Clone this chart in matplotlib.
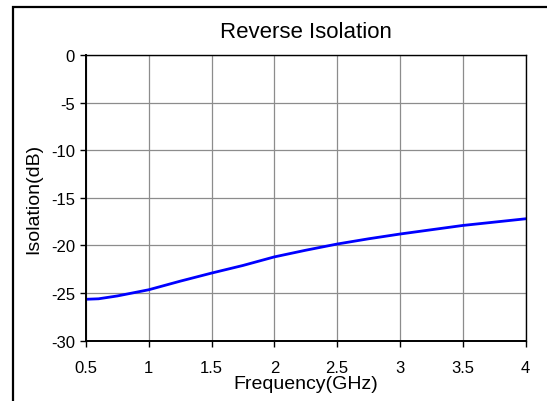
import matplotlib.pyplot as plt
from matplotlib.patches import Rectangle

plt.rcParams['font.family'] = ['Liberation Sans', 'DejaVu Sans']
plt.rcParams['axes.unicode_minus'] = False

# Reverse isolation
freq_ghz = [0.5, 0.6, 0.75, 1.0, 1.25, 1.5, 1.75, 2.0, 2.25, 2.5, 2.75, 3.0, 3.25, 3.5, 3.75, 4.0]
isolation_db = [-25.65, -25.6, -25.3, -24.65, -23.75, -22.9, -22.1, -21.2, -20.5, -19.85,
                -19.3, -18.8, -18.35, -17.9, -17.55, -17.2]
x_ticks = [0.5, 1, 1.5, 2, 2.5, 3, 3.5, 4]
x_tick_labels = ['0.5', '1', '1.5', '2', '2.5', '3', '3.5', '4']
y_ticks = [0, -5, -10, -15, -20, -25, -30]

fig = plt.figure(figsize=(5.47, 4.02), dpi=100)
ax = fig.add_axes([0.1572, 0.15, 0.8035, 0.7107])

# frame around the whole chart (cut off at right and bottom)
fig.patches.append(Rectangle((13 / 547, -0.1), 1.2, 1 - 7.7 / 402 + 0.1,
                             transform=fig.transFigure, fill=False,
                             edgecolor='black', linewidth=1.6))

ax.plot(freq_ghz, isolation_db, color='#0000ff', linewidth=2.0)

ax.set_xlim(0.5, 4)
ax.set_ylim(-30, 0)
ax.set_xticks(x_ticks)
ax.set_xticklabels(x_tick_labels)
ax.set_yticks(y_ticks)
ax.grid(True, color='#8c8c8c', linewidth=0.9)
ax.tick_params(direction='out', length=4, width=1, labelsize=12, colors='black')
ax.tick_params(axis='x', pad=10)
ax.tick_params(axis='y', pad=4)
for s in ax.spines.values():
    s.set_color('black')
    s.set_linewidth(1.0)
ax.spines['left'].set_linewidth(1.4)
ax.spines['bottom'].set_linewidth(1.4)

ax.set_title('Reverse Isolation', fontsize=16, pad=13)
ax.set_xlabel('Frequency(GHz)', fontsize=14, labelpad=0)
ax.set_ylabel('Isolation(dB)', fontsize=14, labelpad=6)

fig.savefig('out.png', dpi=100)
